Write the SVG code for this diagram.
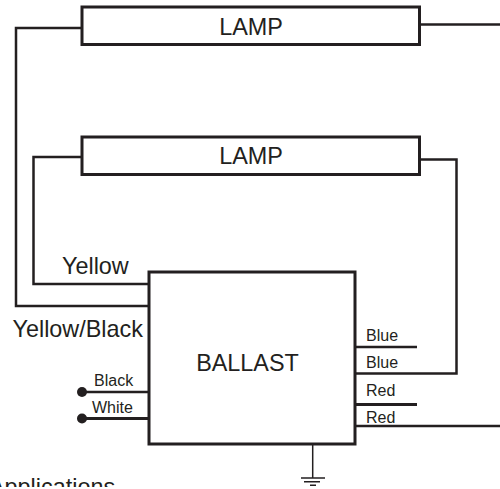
<svg xmlns="http://www.w3.org/2000/svg" width="500" height="489" viewBox="0 0 500 489">
<defs>
<style>
.box{fill:#fff;stroke:#231f20;stroke-width:3}
.w{fill:none;stroke:#231f20;stroke-width:2.500}
.g{fill:none;stroke:#231f20;stroke-width:1.500}
.t{font-family:"Liberation Sans",Arial,sans-serif;fill:#231f20}
.big{font-size:23.400px}
.small{font-size:16px}
</style>
<clipPath id="c"><rect x="0" y="449" width="500" height="38"/></clipPath>
</defs>
<rect width="500" height="489" fill="#fff"/>
<g id="connectors">
<path class="w" d="M82 28H16V306H149"/>
<path class="w" d="M82 157H33.500V284H149"/>
<path class="w" d="M419 24.500H500"/>
<path class="w" d="M419 159.500H456.500V373.500H355"/>
<path class="w" d="M355 347H417"/>
<path class="w" d="M355 404.500H417" style="stroke-width:3"/>
<path class="w" d="M355 426H500"/>
<path class="w" d="M82 392H151"/>
<path class="w" d="M82 418.500H151" style="stroke-width:3"/>
<circle cx="82" cy="392" r="5" fill="#231f20"/>
<circle cx="82" cy="418.500" r="5" fill="#231f20"/>
<path class="g" d="M312.700 445V478M301 478H325M304 481.700H320M310 485.300H316"/>
</g>
<g id="lamp1"><rect class="box" x="82" y="7" width="337.500" height="37.500"/><text class="t big" x="251" y="35" text-anchor="middle">LAMP</text></g>
<g id="lamp2"><rect class="box" x="82" y="137" width="337.500" height="37.500"/><text class="t big" x="251" y="163.500" text-anchor="middle">LAMP</text></g>
<g id="ballast"><rect class="box" x="149" y="272" width="206" height="172"/><text class="t big" x="247.500" y="371" text-anchor="middle">BALLAST</text></g>
<g id="labels">
<text class="t big" x="62" y="273.500">Yellow</text>
<text class="t big" x="12.500" y="337">Yellow/Black</text>
<text class="t small" x="94" y="386">Black</text>
<text class="t small" x="92" y="413">White</text>
<text class="t small" x="366" y="341">Blue</text>
<text class="t small" x="366" y="368">Blue</text>
<text class="t small" x="366" y="396">Red</text>
<text class="t small" x="366" y="423">Red</text>
<text class="t big" clip-path="url(#c)" x="-11" y="495">Applications</text>
</g>
</svg>
